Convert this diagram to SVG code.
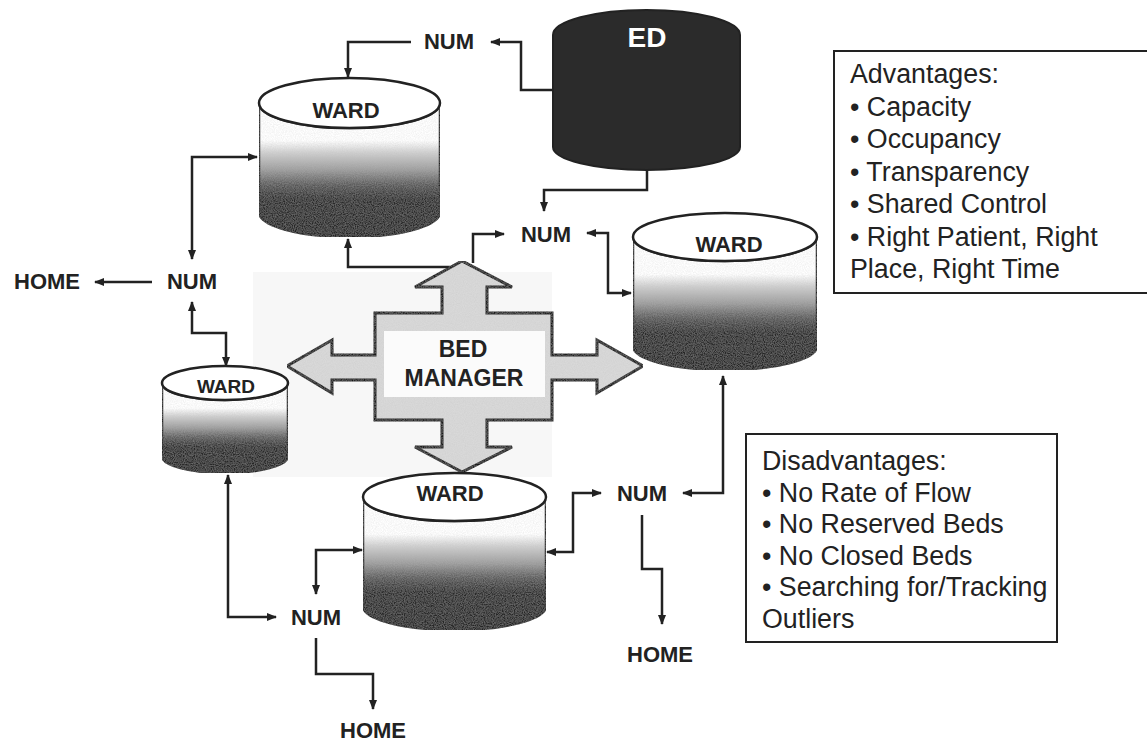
<svg xmlns="http://www.w3.org/2000/svg" width="1147" height="742" viewBox="0 0 1147 742">
<style>
  .lbl { font-family: "Liberation Sans", Arial, sans-serif; font-weight: bold; fill: #222; text-anchor: middle; }
  .num { font-size: 22px; }
  .ward { font-size: 22px; }
  .txt { font-family: "Liberation Sans", Arial, sans-serif; font-size: 26.8px; fill: #222; }
  .conn { fill: none; stroke: #222; stroke-width: 2.5; }
  .ar { marker-end: url(#ah); }
  .ar2 { marker-start: url(#ah); marker-end: url(#ah); }
  .cyl { stroke: #222; stroke-width: 2.5; }
  .box { fill: #fff; stroke: #222; stroke-width: 2; }
</style>
<defs>
  <marker id="ah" viewBox="0 0 10 8" refX="9" refY="4" markerWidth="10" markerHeight="8" markerUnits="userSpaceOnUse" orient="auto-start-reverse">
    <path d="M0,0 L10,4 L0,8 z" fill="#222"/>
  </marker>
  <linearGradient id="body" x1="0" y1="0" x2="0" y2="1">
    <stop offset="0" stop-color="#fff"/>
    <stop offset="0.28" stop-color="#fff"/>
    <stop offset="0.37" stop-color="#d0d0d0"/>
    <stop offset="0.5" stop-color="#9c9c9c"/>
    <stop offset="0.62" stop-color="#555"/>
    <stop offset="0.72" stop-color="#2b2b2b"/>
    <stop offset="1" stop-color="#262626"/>
  </linearGradient>
  <filter id="grain" x="0" y="0" width="1" height="1">
    <feTurbulence type="fractalNoise" baseFrequency="0.9" numOctaves="2" seed="3" result="n"/>
    <feColorMatrix in="n" type="matrix" values="0 0 0 0 0.5  0 0 0 0 0.5  0 0 0 0 0.5  0 0 0 0.45 -0.12" result="g"/>
    <feComposite in="g" in2="SourceGraphic" operator="in" result="gm"/>
    <feMerge><feMergeNode in="SourceGraphic"/><feMergeNode in="gm"/></feMerge>
  </filter>
</defs>
<rect width="1147" height="742" fill="#fff"/>

<!-- light background behind bed manager -->
<rect x="253" y="272" width="299" height="205" fill="#f7f7f7"/>

<g id="connectors">
  <path class="conn ar" d="M411,42 H348 V77"/>
  <path class="conn ar" d="M553,90 H521 V42 H491"/>
  <path class="conn ar" d="M647,170 V190 H544 V211"/>
  <path class="conn ar" d="M473,263 V234 H504"/>
  <path class="conn ar" d="M450,267 H348 V239"/>
  <path class="conn ar2" d="M587,233 H608 V293 H631"/>
  <path class="conn ar2" d="M257,157 H192 V259"/>
  <path class="conn ar" d="M152,282 H95"/>
  <path class="conn ar2" d="M192,302 V333 H226 V366"/>
  <path class="conn ar2" d="M228,475 V617 H276"/>
  <path class="conn ar2" d="M362,550 H316 V594"/>
  <path class="conn ar" d="M316,638 V674 H373 V709"/>
  <path class="conn ar2" d="M547,552 H573 V493 H601"/>
  <path class="conn ar2" d="M723,376 V493 H683"/>
  <path class="conn ar" d="M642,515 V569 H662 V624"/>
</g>

<g id="ed">
  <path d="M553,35 V147 A93.5,23 0 0 0 740,147 V35 A93.5,25 0 0 0 553,35 Z" fill="#2b2b2b" stroke="#222" stroke-width="2"/>
  <text x="647" y="47" class="lbl" style="font-size:28px; fill:#fff">ED</text>
</g>

<g id="ward-top">
  <path class="cyl" d="M259,103 V212 A90.5,25 0 0 0 440,212 V103 A90.5,25 0 0 1 259,103 Z" fill="url(#body)" filter="url(#grain)"/>
  <ellipse class="cyl" cx="349.5" cy="103" rx="90.5" ry="25" fill="#fff"/>
  <text x="346" y="118" class="lbl ward">WARD</text>
</g>

<g id="ward-right">
  <path class="cyl" d="M633,237 V346 A92,24 0 0 0 817,346 V237 A92,24 0 0 1 633,237 Z" fill="url(#body)" filter="url(#grain)"/>
  <ellipse class="cyl" cx="725" cy="237" rx="92" ry="24" fill="#fff"/>
  <text x="729" y="252" class="lbl ward">WARD</text>
</g>

<g id="ward-small">
  <path class="cyl" d="M162,383 V456 A63,17 0 0 0 288,456 V383 A63,17 0 0 1 162,383 Z" fill="url(#body)" filter="url(#grain)"/>
  <ellipse class="cyl" cx="225" cy="383" rx="63" ry="17" fill="#fff"/>
  <text x="226" y="393" class="lbl" style="font-size:19px">WARD</text>
</g>

<g id="ward-bottom">
  <path class="cyl" d="M363,497 V606 A91.5,24 0 0 0 546,606 V497 A91.5,24 0 0 1 363,497 Z" fill="url(#body)" filter="url(#grain)"/>
  <ellipse class="cyl" cx="454.5" cy="497" rx="91.5" ry="24" fill="#fff"/>
  <text x="450" y="501" class="lbl ward">WARD</text>
</g>

<g id="bed-manager">
  <polygon points="462,261 512,287 487,287 487,313 552,313 552,355 597,355 597,340 643,366 597,393 597,380 552,380 552,420 487,420 487,447 512,447 462,472 415,447 442,447 442,420 375,420 375,380 332,380 332,393 287,366 332,340 332,355 375,355 375,313 442,313 442,287 415,287" fill="#d9d9d9" stroke="#1a1a1a" stroke-width="3" stroke-linejoin="miter" filter="url(#grain)"/>
  <rect x="384" y="331" width="161" height="66" fill="#fbfbfb"/>
  <text x="463" y="357" class="lbl" style="font-size:23px">BED</text>
  <text x="464" y="386" class="lbl" style="font-size:23px">MANAGER</text>
</g>

<g id="num-top"><text x="449" y="49" class="lbl num">NUM</text></g>
<g id="num-mid"><text x="546" y="242" class="lbl num">NUM</text></g>
<g id="num-left"><text x="192" y="289" class="lbl num">NUM</text></g>
<g id="home-left"><text x="47" y="289" class="lbl num">HOME</text></g>
<g id="num-bl"><text x="316" y="625" class="lbl num">NUM</text></g>
<g id="home-bl"><text x="373" y="738" class="lbl num">HOME</text></g>
<g id="num-br"><text x="642" y="501" class="lbl num">NUM</text></g>
<g id="home-br"><text x="660" y="662" class="lbl num">HOME</text></g>

<g id="advantages">
  <rect class="box" x="834" y="51" width="320" height="242"/>
  <text class="txt" x="850" y="83">Advantages:</text>
  <text class="txt" x="850" y="115.5">• Capacity</text>
  <text class="txt" x="850" y="148">• Occupancy</text>
  <text class="txt" x="850" y="180.5">• Transparency</text>
  <text class="txt" x="850" y="213">• Shared Control</text>
  <text class="txt" x="850" y="245.5">• Right Patient, Right</text>
  <text class="txt" x="850" y="278">Place, Right Time</text>
</g>

<g id="disadvantages">
  <rect class="box" x="746" y="434" width="311" height="208"/>
  <text class="txt" x="762" y="470">Disadvantages:</text>
  <text class="txt" x="762" y="501.5">• No Rate of Flow</text>
  <text class="txt" x="762" y="533">• No Reserved Beds</text>
  <text class="txt" x="762" y="564.5">• No Closed Beds</text>
  <text class="txt" x="762" y="596">• Searching for/Tracking</text>
  <text class="txt" x="762" y="627.5">Outliers</text>
</g>
</svg>
